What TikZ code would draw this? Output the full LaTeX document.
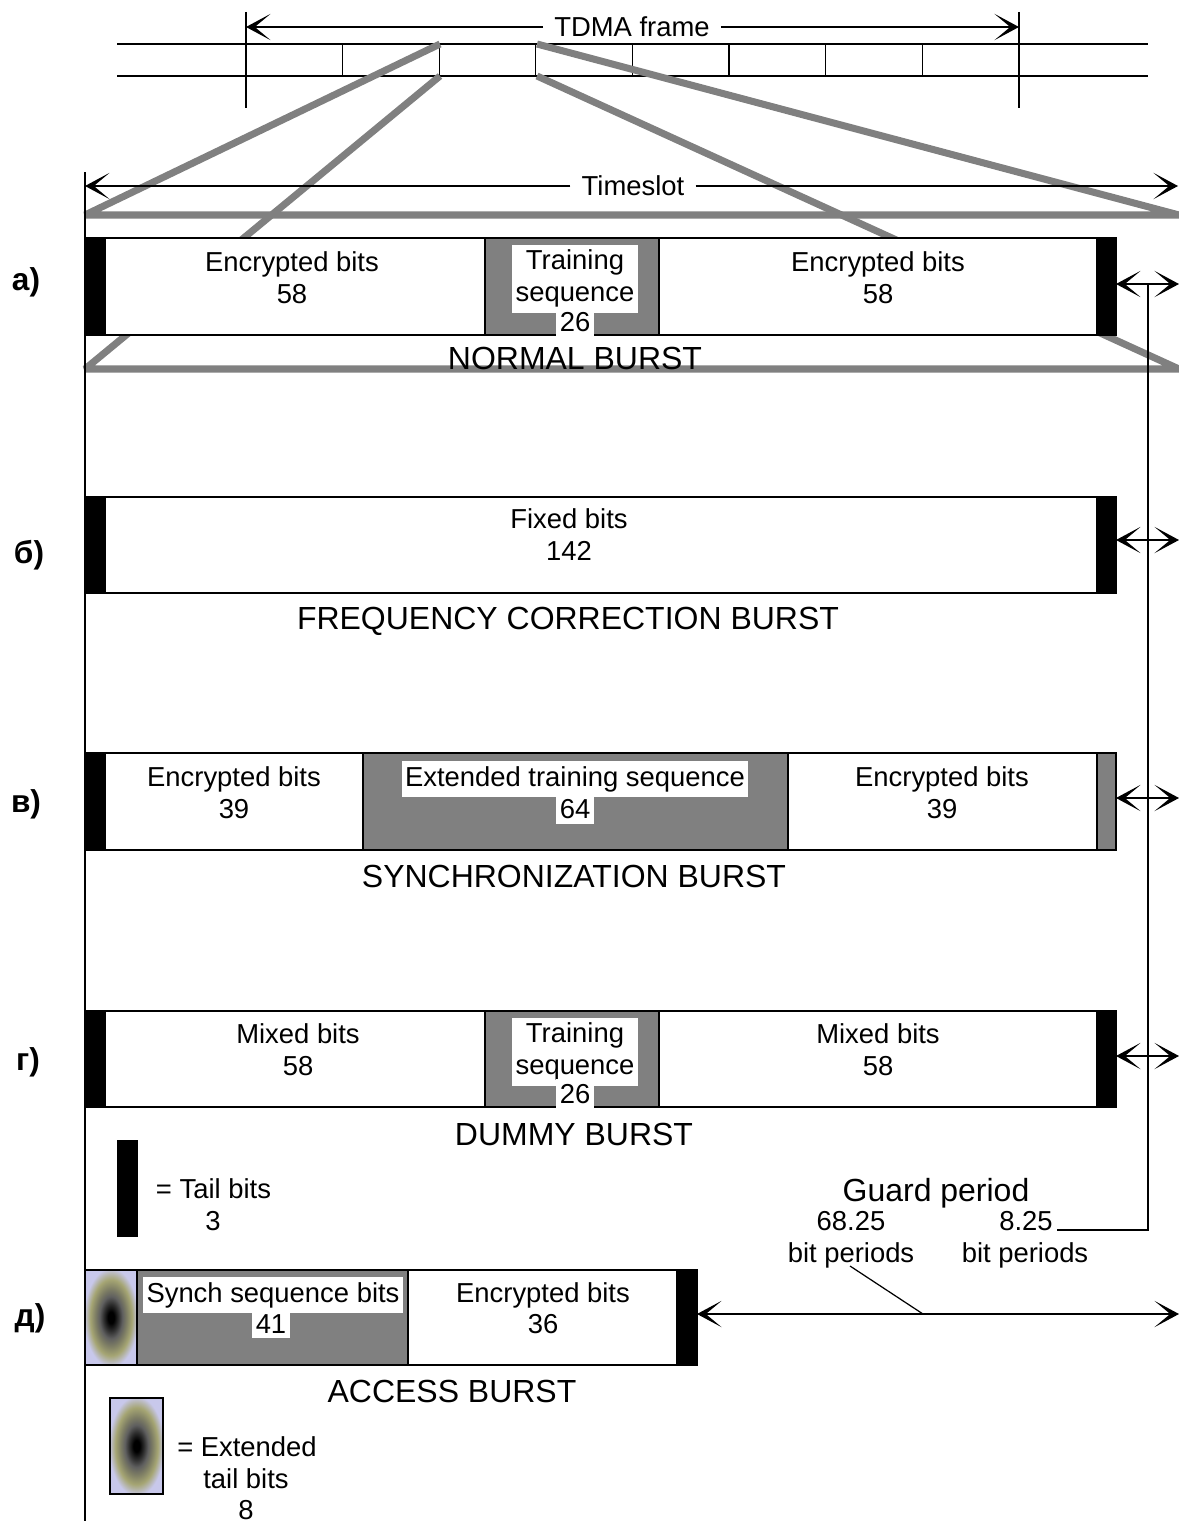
\documentclass[tikz,border=0pt]{standalone}
\usepackage{fontspec}
\setmainfont{Liberation Sans}
\usetikzlibrary{arrows.meta}
\definecolor{zoomgray}{RGB}{128,128,128}
\definecolor{ringA}{RGB}{45,45,45}
\definecolor{ringB}{RGB}{95,95,95}
\definecolor{ringC}{RGB}{125,125,100}
\definecolor{ringD}{RGB}{165,165,115}
\definecolor{ringE}{RGB}{200,200,235}
\pgfdeclareradialshading{exttail}{\pgfpoint{0bp}{0bp}}{color(0bp)=(black); color(3bp)=(black); color(7bp)=(ringA); color(11bp)=(ringB); color(15bp)=(ringC); color(20bp)=(ringD); color(26bp)=(ringE); color(50bp)=(ringE)}

\tikzset{
    lbl/.style={anchor=base, inner sep=0pt},
    ttl/.style={anchor=base, inner sep=0pt, font=\fontsize{9.1}{11}\selectfont},
    rowlbl/.style={anchor=base, inner sep=0pt, font=\fontsize{9}{11}\selectfont\bfseries},
    wlbl/.style={fill=white, inner xsep=1pt, inner ysep=1.5pt},
    burst/.style={draw, line width=0.6pt, fill=white},
    tail/.style={draw, line width=0.6pt, fill=black},
    train/.style={draw, line width=0.6pt, fill=zoomgray},
    zoomline/.style={zoomgray, line width=2pt, line join=bevel},
}

\begin{document}
\begin{tikzpicture}[x=1cm, y=-1cm, font=\fontsize{7.8}{9.1}\selectfont, >={Stealth[length=7pt,width=7.5pt,inset=4.5pt]}]
    \useasboundingbox (0,0) rectangle (11.79,15.21);

    % TDMA frame
    \draw[line width=0.35pt] (1.17,0.44) -- (11.48,0.44) (1.17,0.76) -- (11.48,0.76);
    \draw[line width=0.35pt] (2.46,0.12) -- (2.46,1.08) (10.19,0.12) -- (10.19,1.08);
    \foreach \i in {1,...,7}{
            \draw[line width=0.35pt] (2.46+0.966*\i,0.44) -- ++(0,0.32);
        }
    \coordinate (F0) at (2.46,0.27);
    \coordinate (F1) at (10.19,0.27);
    \node[fill=white, inner xsep=3pt, inner ysep=1pt] (tdma) at (6.32,0.27) {TDMA frame};
    \draw[->, line width=0.4pt] (tdma) -- (F0);
    \draw[->, line width=0.4pt] (tdma) -- (F1);

    % zoom into one slot
    \draw[zoomline] (4.40,0.44) -- (0.85,2.15) -- (11.79,2.15) -- (5.37,0.44);
    \draw[zoomline] (4.40,0.76) -- (0.85,3.69) -- (11.79,3.69) -- (5.37,0.76);

    \draw[line width=0.6pt] (0.85,1.72) -- (0.85,15.21);
    \coordinate (S0) at (0.85,1.86);
    \coordinate (S1) at (11.78,1.86);
    \node[fill=white, inner xsep=3pt, inner ysep=1pt] (slot) at (6.33,1.86) {Timeslot};
    \draw[->, line width=0.4pt] (slot) -- (S0);
    \draw[->, line width=0.4pt] (slot) -- (S1);

    % a) normal burst
    \draw[burst] (0.85,2.38) rectangle (11.16,3.35);
    \draw[tail] (0.85,2.38) rectangle (1.05,3.35);
    \draw[tail] (10.97,2.38) rectangle (11.16,3.35);
    \draw[train] (4.85,2.38) rectangle (6.59,3.35);
    \node[lbl] (na1) at (2.92,2.71) {Encrypted bits};
    \node[lbl] (na2) at (2.92,3.03) {58};
    \node[wlbl, anchor=north, align=center] (na3) at (5.75,2.44) {Training\\sequence};
    \node[wlbl, anchor=base] (na4) at (5.75,3.31) {26};
    \node[lbl] (na5) at (8.78,2.71) {Encrypted bits};
    \node[lbl] (na6) at (8.78,3.03) {58};
    \node[ttl] (na7) at (5.75,3.695) {NORMAL BURST};

    % b) frequency correction burst
    \draw[burst] (0.85,4.97) rectangle (11.16,5.93);
    \draw[tail] (0.85,4.97) rectangle (1.05,5.93);
    \draw[tail] (10.97,4.97) rectangle (11.16,5.93);
    \node[lbl] (fb1) at (5.69,5.28) {Fixed bits};
    \node[lbl] (fb2) at (5.69,5.60) {142};
    \node[ttl] (fb3) at (5.68,6.29) {FREQUENCY CORRECTION BURST};

    % c) synchronization burst
    \draw[burst] (0.85,7.53) rectangle (11.16,8.50);
    \draw[tail] (0.85,7.53) rectangle (1.05,8.50);
    \draw[train] (3.63,7.53) rectangle (7.88,8.50);
    \draw[train] (10.97,7.53) rectangle (11.16,8.50);
    \node[lbl] (sb1) at (2.34,7.86) {Encrypted bits};
    \node[lbl] (sb2) at (2.34,8.18) {39};
    \node[wlbl, anchor=base] (sb3) at (5.75,7.86) {Extended training sequence};
    \node[wlbl, anchor=base] (sb4) at (5.75,8.18) {64};
    \node[lbl] (sb5) at (9.42,7.86) {Encrypted bits};
    \node[lbl] (sb6) at (9.42,8.18) {39};
    \node[ttl] (sb7) at (5.74,8.87) {SYNCHRONIZATION BURST};

    % d) dummy burst
    \draw[burst] (0.85,10.11) rectangle (11.16,11.07);
    \draw[tail] (0.85,10.11) rectangle (1.05,11.07);
    \draw[tail] (10.97,10.11) rectangle (11.16,11.07);
    \draw[train] (4.85,10.11) rectangle (6.59,11.07);
    \node[lbl] (db1) at (2.98,10.43) {Mixed bits};
    \node[lbl] (db2) at (2.98,10.75) {58};
    \node[wlbl, anchor=north, align=center] (db3) at (5.75,10.17) {Training\\sequence};
    \node[wlbl, anchor=base] (db4) at (5.75,11.03) {26};
    \node[lbl] (db5) at (8.78,10.43) {Mixed bits};
    \node[lbl] (db6) at (8.78,10.75) {58};
    \node[ttl] (db7) at (5.74,11.45) {DUMMY BURST};

    % tail bits legend
    \fill (1.17,11.40) rectangle (1.38,12.37);
    \node[lbl] (tl1) at (2.135,11.98) {= Tail bits};
    \node[lbl] (tl2) at (2.13,12.30) {3};

    % e) access burst
    \draw[burst] (0.85,12.70) rectangle (6.97,13.65);
    \shadedraw[shading=exttail, line width=0.6pt] (0.85,12.70) rectangle (1.37,13.65);
    \draw[train] (1.37,12.70) rectangle (4.08,13.65);
    \draw[tail] (6.77,12.70) rectangle (6.97,13.65);
    \node[wlbl, anchor=base] (ab1) at (2.73,13.02) {Synch sequence bits};
    \node[wlbl, anchor=base] (ab2) at (2.71,13.33) {41};
    \node[lbl] (ab3) at (5.43,13.02) {Encrypted bits};
    \node[lbl] (ab4) at (5.43,13.33) {36};
    \node[ttl] (ab5) at (4.52,14.02) {ACCESS BURST};

    % extended tail bits legend
    \shadedraw[shading=exttail, line width=0.6pt] (1.10,13.98) rectangle (1.63,14.94);
    \node[lbl] (el1) at (2.47,14.56) {= Extended};
    \node[lbl] (el2) at (2.46,14.88) {tail bits};
    \node[lbl] (el3) at (2.46,15.19) {8};

    % guard periods
    \foreach \y/\n in {2.84/a, 5.40/b, 7.98/c, 10.56/d}{
            \coordinate (G\n) at (11.16,\y);
            \coordinate (E\n) at (11.79,\y);
            \draw[<->, line width=0.4pt] (G\n) -- (E\n);
        }
    \coordinate (gtop) at (11.48,2.84);
    \coordinate (gend) at (10.57,12.30);
    \draw[line width=0.5pt] (gtop) |- (gend);

    \coordinate (Ge) at (6.97,13.14);
    \coordinate (Ee) at (11.79,13.14);
    \draw[<->, line width=0.4pt] (Ge) -- (Ee);
    \coordinate (lead0) at (9.23,13.14);
    \coordinate (lead1) at (8.50,12.66);
    \draw[line width=0.35pt] (lead0) -- (lead1);

    \node[ttl] (gp) at (9.36,12.01) {Guard period};
    \node[lbl] (gl1) at (8.51,12.30) {68.25};
    \node[lbl] (gl2) at (8.51,12.62) {bit periods};
    \node[lbl] (gs1) at (10.26,12.30) {8.25};
    \node[lbl] (gs2) at (10.25,12.62) {bit periods};

    % row letters
    \node[rowlbl] (ra) at (0.26,2.90) {а)};
    \node[rowlbl] (rb) at (0.29,5.63) {б)};
    \node[rowlbl] (rc) at (0.26,8.12) {в)};
    \node[rowlbl] (rd) at (0.28,10.70) {г)};
    \node[rowlbl] (re) at (0.30,13.26) {д)};

\end{tikzpicture}
\end{document}
